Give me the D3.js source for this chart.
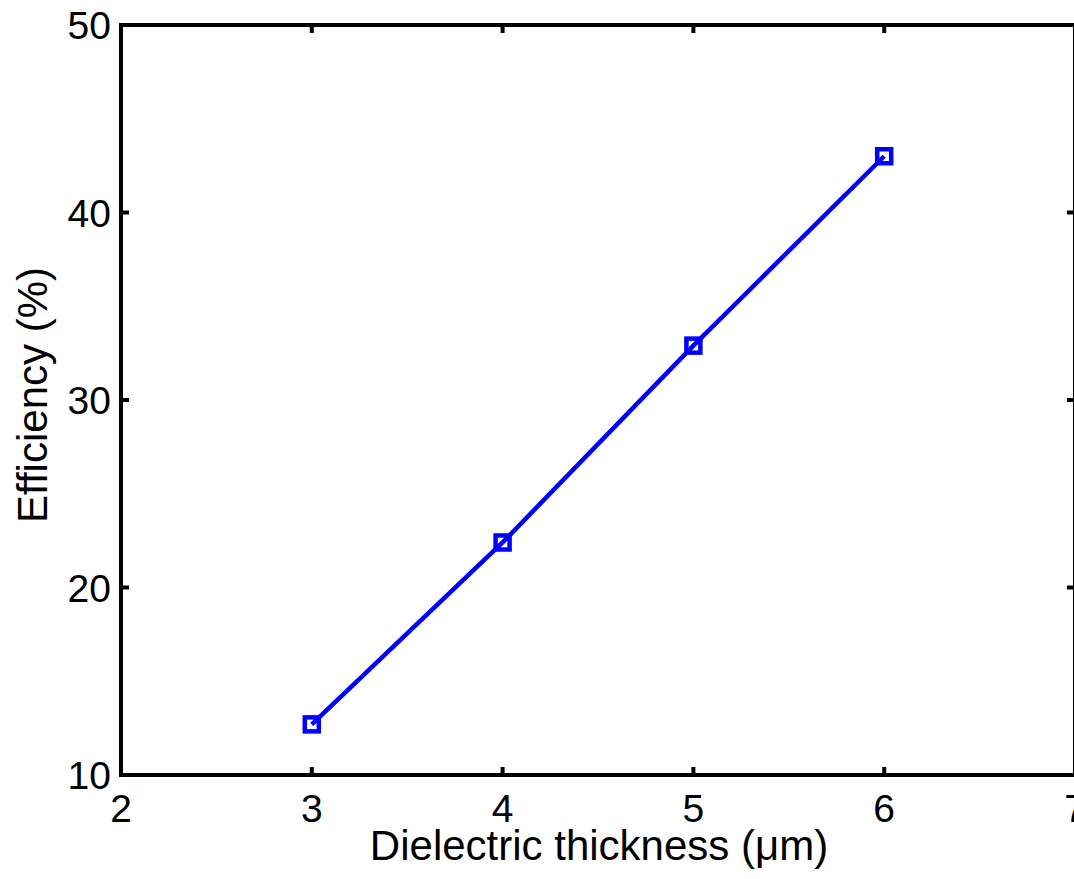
<!DOCTYPE html>
<html><head><meta charset="utf-8">
<script src="https://cdn.jsdelivr.net/npm/d3@7"></script>
<style>body{margin:0;background:#fff}svg{display:block}text{font-family:"Liberation Sans",Arial,sans-serif;fill:#000}</style>
</head><body>
<script>
const thickness = [3, 4, 5, 6];
const efficiency = [12.7, 22.4, 32.9, 43.0];
const xTicks = [2, 3, 4, 5, 6, 7];
const yTicks = [10, 20, 30, 40, 50];

const W = 1074, H = 879;
const svg = d3.select("body").append("svg").attr("width", W).attr("height", H);
const x = d3.scaleLinear().domain([2, 7]).range([121, 1075]);
const y = d3.scaleLinear().domain([10, 50]).range([775, 25]);
const fs = 39, fsTitle = 42;

// frame
svg.append("rect").attr("x", x(2)).attr("y", y(50)).attr("width", x(7) - x(2)).attr("height", y(10) - y(50))
  .attr("fill", "none").attr("stroke", "#000").attr("stroke-width", 4);

// ticks (inward, mirrored)
const tl = 8;
xTicks.slice(1, -1).forEach(t => {
  svg.append("line").attr("x1", x(t)).attr("x2", x(t)).attr("y1", y(10)).attr("y2", y(10) - tl).attr("stroke", "#000").attr("stroke-width", 4);
  svg.append("line").attr("x1", x(t)).attr("x2", x(t)).attr("y1", y(50)).attr("y2", y(50) + tl).attr("stroke", "#000").attr("stroke-width", 4);
});
yTicks.slice(1, -1).forEach(t => {
  svg.append("line").attr("x1", x(2)).attr("x2", x(2) + tl).attr("y1", y(t)).attr("y2", y(t)).attr("stroke", "#000").attr("stroke-width", 4);
  svg.append("line").attr("x1", x(7)).attr("x2", x(7) - tl).attr("y1", y(t)).attr("y2", y(t)).attr("stroke", "#000").attr("stroke-width", 4);
});

// tick labels
svg.selectAll(".xt").data(xTicks).enter().append("text")
  .attr("x", d => x(d)).attr("y", y(10) + 47).attr("text-anchor", "middle").attr("font-size", fs).text(d => d);
svg.selectAll(".yt").data(yTicks).enter().append("text")
  .attr("x", 111).attr("y", d => y(d)).attr("dy", "0.36em").attr("text-anchor", "end").attr("font-size", fs).text(d => d);

// axis titles
svg.append("text").attr("x", 599).attr("y", 860).attr("text-anchor", "middle").attr("font-size", fsTitle)
  .text("Dielectric thickness (\u03bcm)");
svg.append("text").attr("transform", `translate(47,395) rotate(-90)`).attr("text-anchor", "middle").attr("font-size", fsTitle)
  .text("Efficiency (%)");

// data line
const pts = thickness.map((t, i) => [t, efficiency[i]]);
svg.append("path").datum(pts).attr("fill", "none").attr("stroke", "#0000ff").attr("stroke-width", 4.5)
  .attr("d", d3.line().x(d => x(d[0])).y(d => y(d[1])));
const ms = 14;
svg.selectAll(".m").data(pts).enter().append("rect")
  .attr("x", d => x(d[0]) - ms / 2).attr("y", d => y(d[1]) - ms / 2).attr("width", ms).attr("height", ms)
  .attr("fill", "none").attr("stroke", "#0000ff").attr("stroke-width", 4.5);
</script>
</body></html>
